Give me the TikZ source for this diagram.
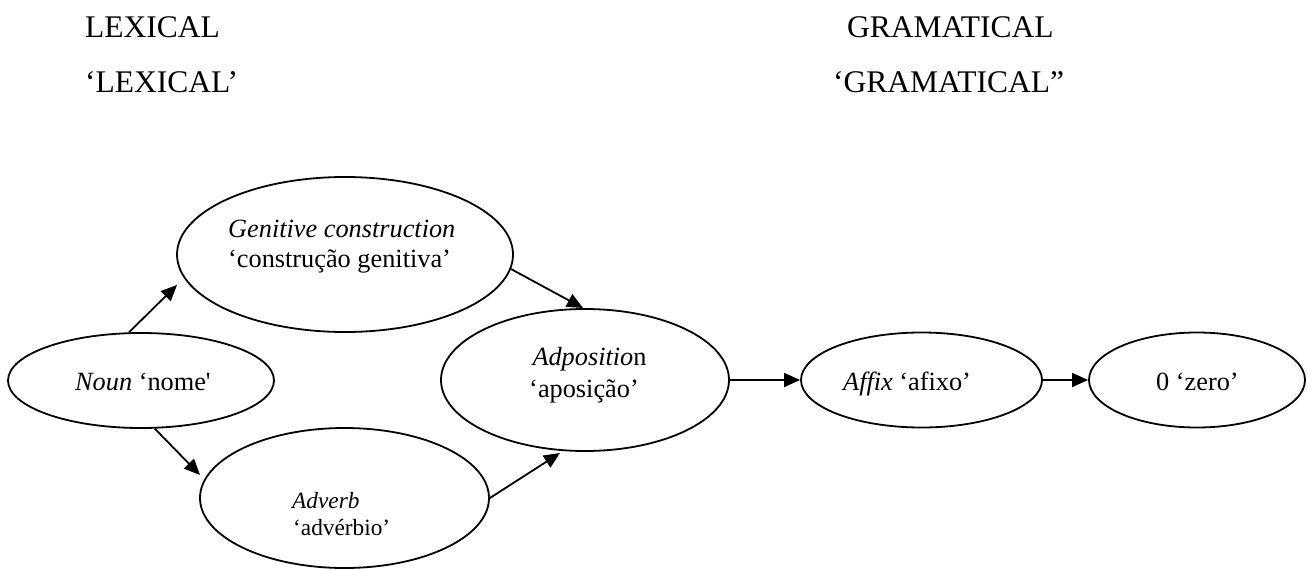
\documentclass[tikz,border=0pt]{standalone}
\usepackage{fontspec}
\setmainfont{Liberation Serif}
\usetikzlibrary{shapes.geometric,arrows.meta}
\begin{document}
\begin{tikzpicture}[x=1pt,y=-1pt,
  oval/.style={draw,ellipse,line width=1.8pt,inner sep=0pt},
  head/.style={inner sep=0pt,anchor=base west,font=\fontsize{31.5}{36}\selectfont},
  txt/.style={inner sep=0pt,anchor=base west,font=\fontsize{26.3}{30}\selectfont},
  stxt/.style={inner sep=0pt,anchor=base west,font=\fontsize{23.3}{27}\selectfont},
  arr/.style={line width=1.8pt,-{Triangle[length=16pt,width=14pt]}}]
\useasboundingbox (0,0) rectangle (1312,570);
% headings
\node[head] (lex) at (85,37) {LEXICAL};
\node[head] (lexq) at (85,92) {‘LEXICAL’};
\node[head] (gram) at (847,37) {GRAMATICAL};
\node[head] (gramq) at (833,92) {‘GRAMATICAL”};
% ellipses
\node[oval,minimum width=266pt,minimum height=95pt] (noun) at (141,380.5) {};
\node[oval,minimum width=336pt,minimum height=155pt] (gen) at (345,254.5) {};
\node[oval,minimum width=289pt,minimum height=140pt] (adv) at (344.5,498) {};
\node[oval,minimum width=288pt,minimum height=142pt] (adp) at (585,380) {};
\node[oval,minimum width=241pt,minimum height=95pt] (aff) at (921.5,380) {};
\node[oval,minimum width=216pt,minimum height=95pt] (zero) at (1197,380) {};
% texts
\node[txt] (nount) at (75,390) {\textit{Noun} ‘nome\textquotesingle};
\node[txt] (gent1) at (228,237) {\textit{Genitive construction}};
\node[txt] (gent2) at (228,267) {‘construção genitiva’};
\node[stxt] (advt1) at (292,508) {\textit{Adverb}};
\node[stxt] (advt2) at (293,535) {‘advérbio’};
\node[txt,anchor=base] (adpt1) at (589.5,365) {\textit{Adpositio}n};
\node[txt,anchor=base] (adpt2) at (584,397) {‘aposição’};
\node[txt] (afft) at (843,390) {\textit{Affix} ‘afixo’};
\node[txt] (zerot) at (1156,390) {0 ‘zero’};
% arrow ends
\coordinate (tipgen) at (177,285);
\coordinate (tipadv) at (200,475);
\coordinate (tipadp) at (560,453);
\coordinate (tipadp2) at (583,308);
% connectors
\draw[arr] (noun.104) -- (tipgen);
\draw[arr] (noun.-74.5) -- (tipadv);
\draw[arr] (gen.-5) -- (tipadp2);
\draw[arr] (adv.east) -- (tipadp);
\draw[arr] (adp.east) -- (aff.west);
\draw[arr] (aff.east) -- (zero.west);
\end{tikzpicture}
\end{document}
